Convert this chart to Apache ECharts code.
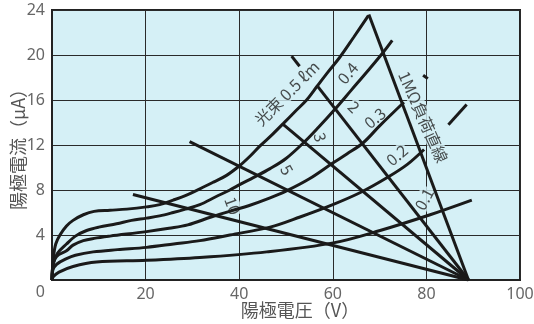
<!DOCTYPE html>
<html>
<head>
<meta charset="utf-8">
<script src="https://cdn.jsdelivr.net/npm/echarts@6/dist/echarts.min.js"></script>
<style>
  html, body { margin: 0; padding: 0; background: #ffffff; }
  #chart { width: 534px; height: 324px; }
</style>
</head>
<body>
<div id="chart"></div>
<script>
// Axis ranges and tick values
const xTicks = [0, 20, 40, 60, 80, 100];
const yTicks = [0, 4, 8, 12, 16, 20, 24];

// Anode current (µA) against anode voltage (V) for each luminous flux (lm)
const fluxNames = ['0.5', '0.4', '0.3', '0.2', '0.1'];
const flux05 = [[0,0],[0.3,2.0],[0.8,3.2],[1.7,4.0],[3.1,4.8],[4.5,5.3],[6.7,5.8],[9,6.1],[12.4,6.2],[16,6.3],[20.2,6.5],[23,6.7],[25.9,7.1],[28.5,7.5],[31.6,8.1],[34.5,8.7],[37.3,9.3],[40.2,10.2],[42.3,11.0],[44.4,11.9],[47,12.9],[49.4,13.9],[52,15.0],[54.4,16.0],[56.6,17.2],[59,18.5],[61.5,19.8],[64.5,21.6],[67.6,23.5]];
const flux04 = [[0,0],[0.3,1.5],[1.2,2.4],[3.1,3.2],[5,3.9],[7.4,4.4],[10,4.7],[13.8,5.0],[17,5.3],[20.2,5.5],[23,5.7],[25.9,6.0],[28.5,6.3],[31.6,6.7],[35,7.4],[38,8.0],[40.2,8.5],[43,9.1],[46.6,9.9],[50,10.8],[54,12.3],[57,13.6],[60.5,15.2],[64,16.9],[67.5,18.6],[70.7,20.2],[72.7,21.3]];
const flux03 = [[0,0],[0.2,1.3],[1,2.1],[3.1,2.6],[4.5,3.1],[6.7,3.5],[9,3.7],[12.4,3.9],[20.2,4.3],[25,4.6],[29,4.9],[34,5.6],[38.7,6.2],[42,6.6],[46.6,7.3],[50,7.9],[55,9.0],[60,10.4],[63,11.2],[66.5,12.2],[70,13.7],[75.2,15.8]];
const flux02 = [[0,0],[0.2,0.9],[1,1.4],[3.1,1.9],[5,2.2],[8.8,2.5],[14,2.7],[20.2,2.9],[26,3.2],[31.6,3.5],[38,4.0],[46.6,4.7],[53,5.6],[60,6.7],[66,7.8],[72,9.2],[76,10.3],[79.5,11.6]];
const flux01 = [[0,0],[0.3,0.3],[1.5,0.7],[4.5,1.2],[9.5,1.6],[20.2,1.75],[31.6,2.0],[45.9,2.5],[60.1,3.3],[70.1,4.4],[80.8,5.8],[89.7,7.1]];
const fluxCurves = [flux05, flux04, flux03, flux02, flux01];

// Load lines (MΩ): each runs from its upper end down to the supply voltage at zero current
const supplyVoltage = 89;
const loadNames = ['1', '2', '3', '5', '10'];
const loadTops = [[67.7, 23.6], [56.6, 17.3], [49.2, 13.9], [29.4, 12.3], [17.3, 7.6]];

// Short bracket strokes next to the captions
const strokes = [
  [[51.2, 19.9], [52.9, 19.0]],
  [[84.7, 13.8], [88.6, 15.6]],
  [[79.3, 18.2], [80.3, 17.9]]
];

// Captions: [text, voltage, current, rotation]
const captions = [
  ['光束 0.5 ℓm', 50.2, 16.6, 45],
  ['0.4', 63.2, 18.4, 50],
  ['0.3', 69.0, 14.4, 40],
  ['0.2', 73.7, 11.1, 40],
  ['0.1', 79.5, 7.2, 62],
  ['2', 64.5, 15.4, -45],
  ['3', 57.3, 12.7, -75],
  ['5', 50.2, 9.8, -60],
  ['10', 38.6, 6.6, -70],
  ['1MΩ負荷直線', 79.3, 14.5, -66]
];

const INK = '#1a1a1a';
const PLOT_BG = '#d5f0f6';
const JP = '"Noto Sans CJK JP", "Noto Sans", sans-serif';
const NUM = '"Noto Sans", sans-serif';

const series = [];
fluxCurves.forEach((pts, k) => {
  series.push({
    name: fluxNames[k] + ' lm',
    type: 'line',
    data: pts,
    smooth: 0.35,
    showSymbol: false,
    z: 3,
    lineStyle: { color: INK, width: 3 }
  });
});
loadTops.forEach((top, k) => {
  series.push({
    name: loadNames[k] + ' MΩ',
    type: 'line',
    data: [top, [supplyVoltage, 0]],
    showSymbol: false,
    z: 3,
    lineStyle: { color: INK, width: 3 }
  });
});
strokes.forEach((seg) => {
  series.push({
    type: 'line',
    data: seg,
    showSymbol: false,
    z: 3,
    lineStyle: { color: INK, width: 3 }
  });
});
series.push({
  type: 'scatter',
  z: 2,
  symbolSize: 0,
  silent: true,
  data: captions.map(c => ({
    value: [c[1], c[2]],
    label: { formatter: c[0], rotate: c[3] }
  })),
  label: {
    show: true,
    position: 'inside',
    color: '#222',
    fontSize: 16,
    fontFamily: JP,
    backgroundColor: PLOT_BG,
    padding: [0, 1]
  }
});

const chart = echarts.init(document.getElementById('chart'), null, { renderer: 'canvas' });
chart.setOption({
  animation: false,
  backgroundColor: '#ffffff',
  grid: {
    left: 52, right: 14, top: 10, bottom: 44,
    containLabel: false,
    outerBoundsMode: 'none',
    show: true,
    backgroundColor: PLOT_BG,
    borderColor: '#222',
    borderWidth: 2
  },
  xAxis: {
    type: 'value',
    min: xTicks[0], max: xTicks[xTicks.length - 1], interval: xTicks[1] - xTicks[0],
    name: '陽極電圧（V）',
    nameLocation: 'middle',
    nameGap: 21,
    nameMoveOverlap: false,
    nameTextStyle: { color: '#555', fontSize: 18, fontFamily: JP, padding: [0, 0, 0, 28], verticalAlign: 'top' },
    axisLine: { show: true, lineStyle: { color: '#222', width: 2 } },
    axisTick: { show: false },
    axisLabel: {
      color: '#666', fontSize: 16, fontFamily: NUM, margin: 6,
      showMinLabel: false
    },
    splitLine: { show: true, lineStyle: { color: '#2a2a2a', width: 1 } }
  },
  yAxis: {
    type: 'value',
    min: yTicks[0], max: yTicks[yTicks.length - 1], interval: yTicks[1] - yTicks[0],
    name: '陽極電流（μA）',
    nameLocation: 'middle',
    nameGap: 25,
    nameMoveOverlap: false,
    nameRotate: 90,
    nameTextStyle: { color: '#555', fontSize: 18, fontFamily: JP },
    axisLine: { show: true, lineStyle: { color: '#222', width: 2 } },
    axisTick: { show: false },
    axisLabel: {
      color: '#666', fontSize: 16, fontFamily: NUM, margin: 7,
      formatter: v => v === 0 ? '{z|0}' : String(v),
      rich: { z: { color: '#666', fontSize: 16, fontFamily: NUM, padding: [24, 0, 0, 0] } }
    },
    splitLine: { show: true, lineStyle: { color: '#2a2a2a', width: 1 } }
  },
  series: series
});
</script>
</body>
</html>
